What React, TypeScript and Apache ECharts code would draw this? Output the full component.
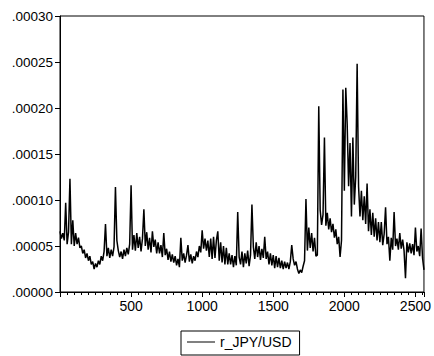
import React, { useEffect, useRef } from "react";
import * as echarts from "echarts";

// r_JPY/USD values, in units of 1e-5, one reading every 10 observations
const VALUES: number[] = [
  6.6, 5.8, 6.4, 5.6, 9.7, 5.2, 6.5, 12.3, 5.2, 7.8,
  5.0, 6.4, 5.2, 5.9, 4.8, 5.0, 4.2, 4.6, 3.7, 4.2,
  3.4, 3.9, 3.0, 3.3, 2.5, 3.1, 2.7, 3.4, 3.0, 3.9,
  3.4, 4.4, 7.4, 3.9, 4.8, 3.7, 4.6, 3.9, 4.9, 11.4,
  5.6, 4.5, 3.8, 4.4, 3.6, 4.6, 3.9, 4.8, 4.1, 5.2,
  11.6, 4.6, 6.2, 4.5, 6.4, 4.8, 6.0, 4.4, 5.8, 9.0,
  5.0, 6.5, 4.6, 5.9, 4.3, 6.6, 4.9, 5.7, 4.2, 5.4,
  4.2, 5.1, 3.8, 6.4, 4.0, 4.7, 3.5, 4.4, 3.3, 4.1,
  3.2, 3.9, 2.9, 3.6, 2.7, 5.9, 3.4, 4.2, 3.2, 4.0,
  5.1, 3.3, 4.1, 3.1, 3.9, 3.4, 4.4, 3.8, 5.0, 4.3,
  6.7, 4.7, 5.8, 4.5, 5.6, 3.8, 5.8, 3.6, 6.0, 3.7,
  5.6, 6.6, 3.4, 5.4, 3.2, 5.0, 3.0, 4.8, 3.0, 4.2,
  3.0, 4.0, 2.7, 3.9, 2.9, 8.7, 3.8, 3.0, 4.4, 2.7,
  4.2, 3.1, 4.5, 2.8, 4.0, 9.5, 4.9, 3.6, 5.4, 3.8,
  5.0, 3.5, 4.7, 3.7, 6.0, 3.6, 4.4, 3.0, 4.2, 2.9,
  4.0, 2.6, 3.9, 2.7, 3.7, 2.6, 3.4, 2.5, 3.3, 2.6,
  3.2, 2.5, 3.3, 5.1, 3.6, 2.9, 3.3, 2.5, 2.0, 2.4,
  2.1, 2.8, 3.4, 10.1, 4.5, 7.0, 4.8, 6.4, 4.4, 5.9,
  3.9, 4.0, 20.2, 8.9, 7.3, 8.4, 16.8, 7.2, 8.6, 6.8,
  8.0, 6.5, 7.4, 5.9, 6.8, 5.2, 6.0, 3.8, 5.6, 22.0,
  11.0, 22.2, 18.2, 11.5, 16.2, 8.2, 16.8, 9.5, 12.5, 24.8,
  11.5, 8.2, 11.0, 7.8, 10.4, 7.4, 11.8, 6.6, 9.0, 6.2,
  8.6, 6.0, 8.0, 5.6, 7.6, 5.4, 7.6, 5.1, 6.3, 9.2,
  5.2, 6.0, 3.4, 5.9, 4.6, 8.7, 5.0, 5.8, 4.6, 6.4,
  4.7, 5.7, 4.5, 1.5, 5.4, 4.3, 5.3, 4.2, 5.2, 4.0,
  7.0, 4.4, 5.0, 3.9, 6.9, 3.7, 2.4,
];
const OBS_STEP = 10;

const Y_TICK_LABELS = [".00000", ".00005", ".00010", ".00015", ".00020", ".00025", ".00030"];
const X_LABELS = [500, 1000, 1500, 2000, 2500];
const SERIES_NAME = "r_JPY/USD";

const FONT = "'Liberation Sans', Arial, Helvetica, sans-serif";

export default function App() {
  const ref = useRef<HTMLDivElement>(null);
  useEffect(() => {
    if (!ref.current) return;
    const chart = echarts.init(ref.current, null, { renderer: "svg" });
    const data = VALUES.map((v, i) => [i * OBS_STEP, v]);
    chart.setOption({
      animation: false,
      backgroundColor: "#ffffff",
      grid: {
        left: 60,
        right: 7,
        top: 16,
        bottom: 64,
        show: true,
        borderColor: "#000",
        borderWidth: 1,
        backgroundColor: "transparent",
      },
      legend: {
        left: 181,
        top: 331,
        data: [SERIES_NAME],
        icon: "rect",
        borderColor: "#000",
        borderWidth: 1,
        borderRadius: 0,
        padding: [4, 8, 6, 6],
        itemWidth: 28,
        itemHeight: 1,
        itemGap: 5,
        textStyle: { fontFamily: FONT, fontSize: 14, color: "#000" },
      },
      xAxis: {
        type: "value",
        min: 0,
        max: 2560,
        interval: 500,
        axisLine: { show: true, lineStyle: { color: "#000", width: 1 } },
        axisTick: { show: true, length: 5, lineStyle: { color: "#000" } },
        minorTick: { show: true, splitNumber: 10, length: 3, lineStyle: { color: "#000" } },
        splitLine: { show: false },
        minorSplitLine: { show: false },
        axisLabel: {
          margin: 7,
          fontFamily: FONT,
          fontSize: 14,
          color: "#000",
          formatter: (v: number) => (X_LABELS.indexOf(v) >= 0 ? String(v) : ""),
        },
      },
      yAxis: {
        type: "value",
        min: 0,
        max: 30,
        interval: 5,
        axisLine: { show: true, lineStyle: { color: "#000", width: 1 } },
        axisTick: { show: true, length: 5, lineStyle: { color: "#000" } },
        splitLine: { show: false },
        axisLabel: {
          margin: 7,
          fontFamily: FONT,
          fontSize: 13.5,
          color: "#000",
          formatter: (v: number) => Y_TICK_LABELS[Math.round(v / 5)] ?? "",
        },
      },
      series: [
        {
          name: SERIES_NAME,
          type: "line",
          data,
          symbol: "none",
          showSymbol: false,
          lineStyle: { color: "#000", width: 1.5 },
          itemStyle: { color: "#000" },
        },
      ],
    });
    return () => chart.dispose();
  }, []);
  return (
    <div
      ref={ref}
      style={{ position: "fixed", left: 0, top: 0, width: 434, height: 356 }}
    />
  );
}
